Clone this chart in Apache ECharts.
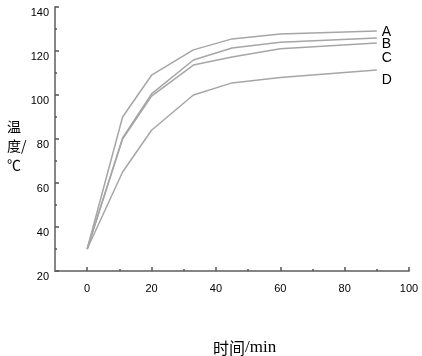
<!DOCTYPE html>
<html>
<head>
<meta charset="utf-8">
<script src="https://cdn.jsdelivr.net/npm/echarts@6/dist/echarts.min.js"></script>
<style>html,body{margin:0;padding:0;background:#fff;}#c{width:422px;height:356px;}</style>
</head>
<body>
<div id="c"></div>
<script>
var times = [0, 11, 20, 33, 45, 60, 90];
var seriesA = [30, 90, 109, 120.5, 125.5, 127.7, 129.1];
var seriesB = [30, 80.5, 100.5, 115.9, 121.4, 124, 125.9];
var seriesC = [30, 80, 99.5, 113.6, 117.3, 121, 123.6];
var seriesD = [30, 65, 84, 100, 105.5, 108, 111.4];
var seriesNames = ['A', 'B', 'C', 'D'];
var xMajorTicks = [0, 20, 40, 60, 80, 100];
var xMinorTicks = [10, 30, 50, 70, 90];

var allValues = [seriesA, seriesB, seriesC, seriesD];
var labelOffsets = [[0, 1], [0, 6], [0, 15], [0, 10]];

var chart = echarts.init(document.getElementById('c'), null, {renderer: 'canvas'});
var axisColor = '#858585';
var series = allValues.map(function (vals, i) {
  return {
    name: seriesNames[i],
    type: 'line',
    xAxisIndex: 0,
    data: times.map(function (t, j) { return [t, vals[j]]; }),
    symbol: 'none',
    lineStyle: {color: '#a6a6a6', width: 1.5},
    silent: true,
    animation: false,
    endLabel: {
      show: true,
      formatter: seriesNames[i],
      color: '#000',
      fontFamily: 'Liberation Sans',
      fontSize: 14,
      distance: 5,
      offset: labelOffsets[i]
    }
  };
});

chart.setOption({
  animation: false,
  grid: {left: 55, right: 13, top: 7, bottom: 85},
  xAxis: [{
    type: 'value',
    min: -10, max: 100,
    axisLine: {show: true, onZero: false, lineStyle: {color: axisColor, width: 2}},
    axisTick: {show: true, inside: true, length: 4, customValues: xMajorTicks, lineStyle: {color: '#555', width: 1.5}},
    axisLabel: {customValues: xMajorTicks, margin: 12, color: '#000', fontFamily: 'Liberation Sans', fontSize: 11},
    splitLine: {show: false}
  }, {
    type: 'value',
    min: -10, max: 100,
    position: 'bottom',
    axisLine: {show: false, onZero: false},
    axisTick: {show: true, inside: true, length: 2, customValues: xMinorTicks, lineStyle: {color: '#555', width: 1.5}},
    axisLabel: {show: false},
    splitLine: {show: false}
  }],
  yAxis: {
    type: 'value',
    min: 20, max: 140, interval: 20,
    axisLine: {show: true, onZero: false, lineStyle: {color: axisColor, width: 2}},
    axisTick: {show: true, inside: true, length: 4, lineStyle: {color: '#555', width: 1.5}},
    minorTick: {show: true, splitNumber: 2, length: 2, lineStyle: {color: '#555', width: 1.5}},
    axisLabel: {margin: 6, verticalAlign: 'top', color: '#000', fontFamily: 'Liberation Sans', fontSize: 11},
    splitLine: {show: false}
  },
  graphic: [{
    type: 'text',
    left: 7, top: 117,
    style: {
      text: '温\n度/\n℃',
      font: '14px "Noto Sans CJK SC"',
      lineHeight: 19,
      fill: '#000'
    }
  }, {
    type: 'text',
    left: 213, top: 339,
    style: {
      text: '{a|时间}{b|/min}',
      rich: {
        a: {fontFamily: 'Noto Sans CJK SC', fontSize: 16, fill: '#000'},
        b: {fontFamily: 'Liberation Serif', fontSize: 17, fill: '#000'}
      }
    }
  }],
  series: series
});
</script>
</body>
</html>
